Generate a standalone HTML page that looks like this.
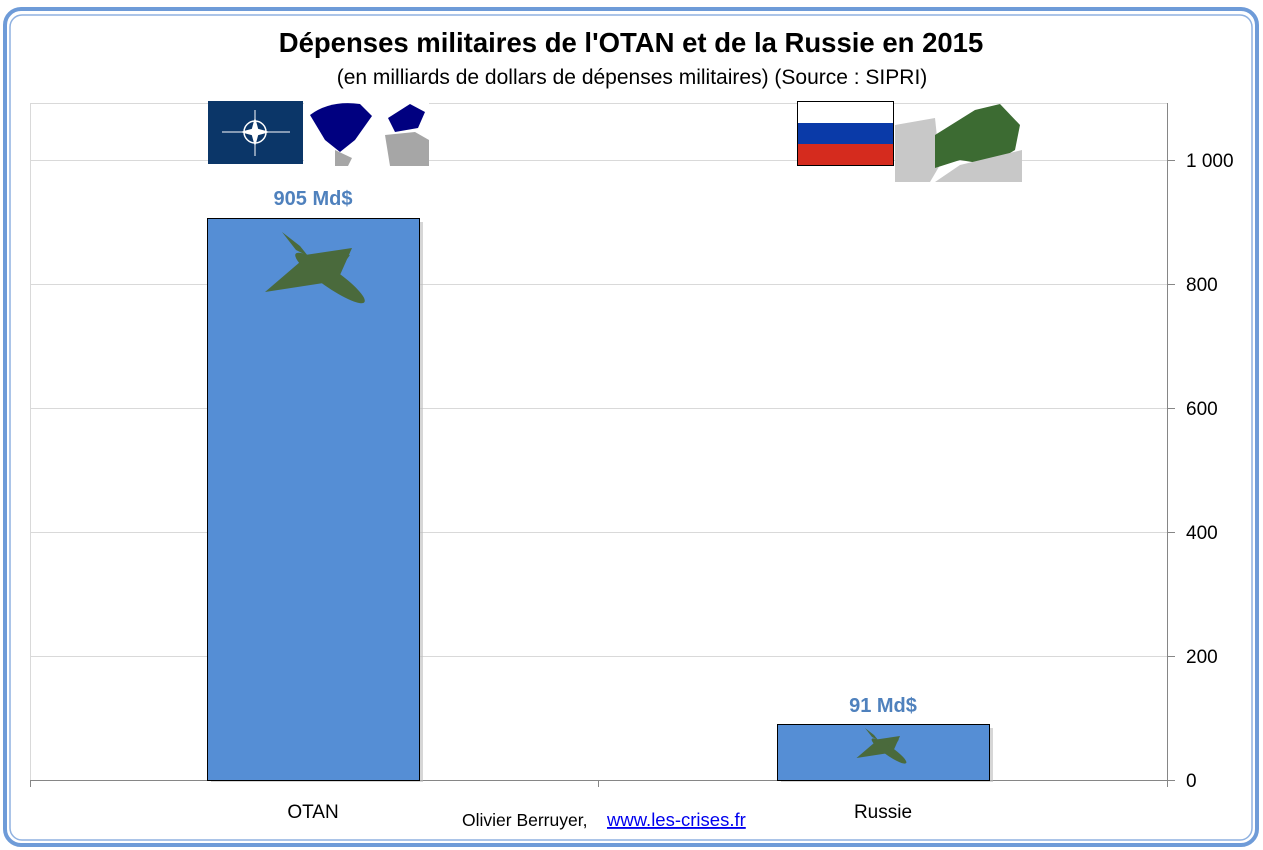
<!DOCTYPE html>
<html><head><meta charset="utf-8"><style>
html,body{margin:0;padding:0;background:#fff;}
svg{display:block;font-family:"Liberation Sans",sans-serif;}
</style></head><body>
<svg width="1263" height="850" viewBox="0 0 1263 850" xmlns="http://www.w3.org/2000/svg">
<rect x="0" y="0" width="1263" height="850" fill="#fff"/>
<rect x="5" y="9" width="1252" height="836" rx="16" fill="none" stroke="#6e9bd8" stroke-width="4"/>
<rect x="10" y="15" width="1242" height="825" rx="12" fill="none" stroke="#8fb1e0" stroke-width="1.5"/>
<text x="631" y="52" text-anchor="middle" font-size="27.5" font-weight="bold" fill="#000">Dépenses militaires de l'OTAN et de la Russie en 2015</text>
<text x="632" y="84" text-anchor="middle" font-size="21" fill="#000">(en milliards de dollars de dépenses militaires) (Source : SIPRI)</text>
<g stroke="#d9d9d9" stroke-width="1">
<line x1="30" y1="103.5" x2="1167" y2="103.5"/>
<line x1="30" y1="160.5" x2="1167" y2="160.5"/>
<line x1="30" y1="284.5" x2="1167" y2="284.5"/>
<line x1="30" y1="408.5" x2="1167" y2="408.5"/>
<line x1="30" y1="532.5" x2="1167" y2="532.5"/>
<line x1="30" y1="656.5" x2="1167" y2="656.5"/>
<line x1="30.5" y1="103" x2="30.5" y2="780"/>
</g>
<g stroke="#868686" stroke-width="1">
<line x1="30" y1="780.5" x2="1167" y2="780.5"/>
<line x1="1167.5" y1="103" x2="1167.5" y2="780"/>
<line x1="30.5" y1="780" x2="30.5" y2="787"/>
<line x1="598.5" y1="780" x2="598.5" y2="787"/>
<line x1="1167.5" y1="780" x2="1167.5" y2="787"/>
<line x1="1167" y1="160.5" x2="1175" y2="160.5"/>
<line x1="1167" y1="284.5" x2="1175" y2="284.5"/>
<line x1="1167" y1="408.5" x2="1175" y2="408.5"/>
<line x1="1167" y1="532.5" x2="1175" y2="532.5"/>
<line x1="1167" y1="656.5" x2="1175" y2="656.5"/>
<line x1="1167" y1="780.5" x2="1175" y2="780.5"/>
</g>
<g font-size="19" fill="#000">
<text x="1186" y="167">1 000</text>
<text x="1186" y="291">800</text>
<text x="1186" y="415">600</text>
<text x="1186" y="539">400</text>
<text x="1186" y="663">200</text>
<text x="1186" y="787">0</text>
<text x="313" y="818" text-anchor="middle">OTAN</text>
<text x="883" y="818" text-anchor="middle">Russie</text>
</g>
<rect x="211" y="222" width="212" height="560" fill="#bbb" opacity="0.6"/>
<rect x="207.5" y="218.5" width="212" height="562" fill="#558ed5" stroke="#000" stroke-width="1"/>
<rect x="781" y="728" width="212" height="54" fill="#bbb" opacity="0.6"/>
<rect x="777.5" y="724.5" width="212" height="56" fill="#558ed5" stroke="#000" stroke-width="1"/>
<text x="313" y="205" text-anchor="middle" font-size="20" font-weight="bold" fill="#4f81bd">905 Md$</text>
<text x="883" y="712" text-anchor="middle" font-size="20" font-weight="bold" fill="#4f81bd">91 Md$</text>
<g id="plane" fill="#4a6a3c">
<polygon points="282,232 300,246 308,256 296,250"/>
<polygon points="300,262 265,292 330,282 350,255"/>
<polygon points="305,255 352,248 340,275"/>
<ellipse cx="330" cy="278" rx="42" ry="9" transform="rotate(35 330 278)"/>
</g>
<g transform="translate(858,728) scale(0.5) translate(-268,-232)">
<use href="#plane"/>
</g>
<rect x="208" y="101" width="95" height="63" fill="#0b3668"/>
<line x1="222" y1="132" x2="290" y2="132" stroke="#fff" stroke-width="1"/>
<line x1="255" y1="110" x2="255" y2="156" stroke="#fff" stroke-width="1"/>
<circle cx="255" cy="132" r="11" fill="none" stroke="#fff" stroke-width="1.5"/>
<polygon points="255,117 259,132 255,147 251,132" fill="#fff"/>
<polygon points="240,132 255,128 270,132 255,136" fill="#fff"/>
<rect x="304" y="100" width="125" height="66" fill="#fff"/>
<path d="M310,115 Q330,100 360,104 L372,116 L355,140 L340,152 L325,140 Z" fill="#000080"/>
<path d="M388,118 L410,104 L425,112 L418,128 L395,132 Z" fill="#000080"/>
<path d="M385,135 L415,132 L429,140 L429,166 L390,166 Z" fill="#a6a6a6"/>
<path d="M335,150 L352,158 L348,166 L335,166 Z" fill="#a6a6a6"/>
<rect x="797.5" y="101.5" width="96" height="64" fill="#fff" stroke="#000"/>
<rect x="798" y="123" width="95" height="21" fill="#0a3aa8"/>
<rect x="798" y="144" width="95" height="21" fill="#d52b1e"/>
<path d="M895,125 L935,118 L940,165 L930,182 L895,182 Z" fill="#c8c8c8"/>
<path d="M935,135 L975,110 L1000,104 L1020,125 L1015,150 L990,165 L960,160 L935,168 Z" fill="#3c6b32"/>
<path d="M960,165 L1022,150 L1022,182 L935,182 Z" fill="#c8c8c8"/>
<text x="462" y="826" font-size="17.5" fill="#000">Olivier Berruyer,</text>
<text x="607" y="826" font-size="18.5" fill="#0000ee" text-decoration="underline">www.les-crises.fr</text>
</svg>
</body></html>
